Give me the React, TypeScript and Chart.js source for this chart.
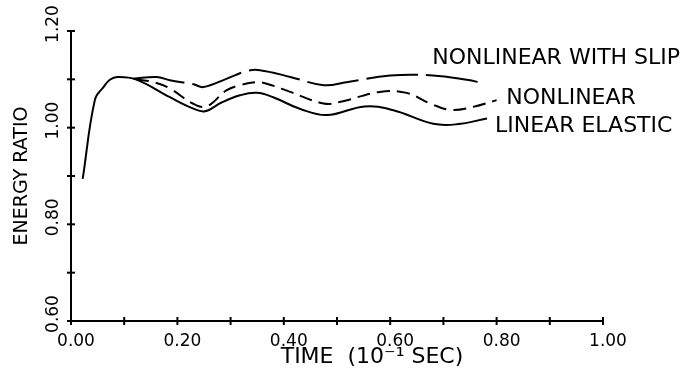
import React, { useEffect, useRef } from 'react';
import { Chart, registerables } from 'chart.js';

Chart.register(...registerables);

// ---- data ----
const linearElasticX = [0.022, 0.045, 0.061, 0.073, 0.087, 0.122, 0.186, 0.229, 0.252, 0.283, 0.318, 0.349, 0.380, 0.430, 0.481, 0.552, 0.606, 0.681, 0.725, 0.782];
const linearElasticY = [0.894, 1.058, 1.084, 1.099, 1.105, 1.100, 1.063, 1.040, 1.034, 1.052, 1.067, 1.072, 1.063, 1.039, 1.026, 1.044, 1.036, 1.008, 1.007, 1.019];

const nonlinearX = [0.122, 0.156, 0.186, 0.229, 0.255, 0.292, 0.318, 0.349, 0.368, 0.412, 0.475, 0.505, 0.580, 0.631, 0.675, 0.713, 0.756, 0.800];
const nonlinearY = [1.100, 1.094, 1.081, 1.050, 1.044, 1.077, 1.088, 1.094, 1.091, 1.074, 1.050, 1.053, 1.074, 1.072, 1.050, 1.037, 1.043, 1.057];

const slipX = [0.117, 0.161, 0.186, 0.230, 0.249, 0.292, 0.330, 0.355, 0.412, 0.475, 0.518, 0.600, 0.680, 0.744, 0.775];
const slipY = [1.101, 1.105, 1.098, 1.090, 1.084, 1.101, 1.117, 1.119, 1.105, 1.088, 1.094, 1.108, 1.108, 1.099, 1.092];

const seriesLabels = ['LINEAR ELASTIC', 'NONLINEAR', 'NONLINEAR WITH SLIP'];
// where each curve label's left-middle point sits, in data units
const labelAnchorX = [0.797, 0.818, 0.679];
const labelAnchorY = [1.003, 1.061, 1.143];

const xAxisTitle = 'TIME  (10\u207B\u00B9 SEC)';
const yAxisTitle = 'ENERGY RATIO';
const X_MIN = 0, X_MAX = 1, Y_MIN = 0.6, Y_MAX = 1.2, TICK_STEP = 0.1;

const FONT = '"DejaVu Sans", sans-serif';

const toPoints = (xs: number[], ys: number[]) => xs.map((x, i) => ({ x, y: ys[i] }));
const everyOther = (v: number | string) => {
  const n = Math.round(Number(v) * 10);
  return n % 2 === 0 ? Number(v).toFixed(2) : '';
};

const decorPlugin = {
  id: 'decor',
  afterDraw(chart: any) {
    const { ctx, chartArea, scales } = chart;
    const xs = scales.x, ys = scales.y;
    ctx.save();
    ctx.strokeStyle = '#000';
    ctx.lineWidth = 2;
    // cross tick marks on both axes
    xs.ticks.forEach((t: any) => {
      const px = xs.getPixelForValue(t.value);
      ctx.beginPath();
      ctx.moveTo(px, chartArea.bottom - 4);
      ctx.lineTo(px, chartArea.bottom + 4);
      ctx.stroke();
    });
    ys.ticks.forEach((t: any) => {
      const py = ys.getPixelForValue(t.value);
      ctx.beginPath();
      ctx.moveTo(chartArea.left - 4, py);
      ctx.lineTo(chartArea.left + 4, py);
      ctx.stroke();
    });
    // curve labels
    ctx.fillStyle = '#000';
    ctx.font = `22px ${FONT}`;
    ctx.textAlign = 'left';
    ctx.textBaseline = 'middle';
    seriesLabels.forEach((s, i) => {
      ctx.fillText(s, xs.getPixelForValue(labelAnchorX[i]), ys.getPixelForValue(labelAnchorY[i]));
    });
    // x axis title
    ctx.font = `22px ${FONT}`;
    ctx.textAlign = 'center';
    ctx.fillText(xAxisTitle, 372, 357);
    ctx.restore();
  },
};

export default function App() {
  const ref = useRef<HTMLCanvasElement | null>(null);
  useEffect(() => {
    document.body.style.margin = '0';
    const canvas = ref.current;
    if (!canvas) return;
    const lineBase = {
      borderColor: '#000',
      borderWidth: 2,
      pointRadius: 0,
      fill: false,
      tension: 0.4,
    };
    const chart = new Chart(canvas, {
      type: 'line',
      data: {
        datasets: [
          { ...lineBase, label: seriesLabels[0], data: toPoints(linearElasticX, linearElasticY) },
          { ...lineBase, label: seriesLabels[1], data: toPoints(nonlinearX, nonlinearY), borderDash: [13, 7] },
          { ...lineBase, label: seriesLabels[2], data: toPoints(slipX, slipY), borderDash: [52, 8] },
        ],
      },
      options: {
        responsive: false,
        animation: false,
        layout: { padding: { top: 31, right: 89, bottom: 0, left: 0 } },
        plugins: { legend: { display: false }, tooltip: { enabled: false } },
        scales: {
          x: {
            type: 'linear',
            min: X_MIN,
            max: X_MAX,
            afterFit: (s: any) => { s.height = 52; },
            grid: { display: false, drawTicks: false },
            border: { display: true, color: '#000', width: 2 },
            ticks: {
              stepSize: TICK_STEP,
              autoSkip: false,
              maxRotation: 0,
              padding: 10,
              labelOffset: 5,
              color: '#000',
              font: { family: FONT, size: 17 },
              callback: (v: any) => everyOther(v),
            },
          },
          y: {
            type: 'linear',
            min: Y_MIN,
            max: Y_MAX,
            afterFit: (s: any) => { s.width = 71; },
            grid: { display: false, drawTicks: false },
            border: { display: true, color: '#000', width: 2 },
            title: {
              display: true,
              text: yAxisTitle,
              color: '#000',
              font: { family: FONT, size: 19 },
              padding: { top: 10.6, bottom: 0 },
            },
            ticks: {
              stepSize: TICK_STEP,
              autoSkip: false,
              minRotation: 90,
              maxRotation: 90,
              crossAlign: 'center',
              padding: -2,
              labelOffset: -7,
              color: '#000',
              font: { family: FONT, size: 17 },
              callback: (v: any) => everyOther(v),
            },
          },
        },
      },
      plugins: [decorPlugin],
    } as any);
    return () => chart.destroy();
  }, []);
  return (
    <div style={{ width: 692, height: 373 }}>
      <canvas ref={ref} width={692} height={373} />
    </div>
  );
}
